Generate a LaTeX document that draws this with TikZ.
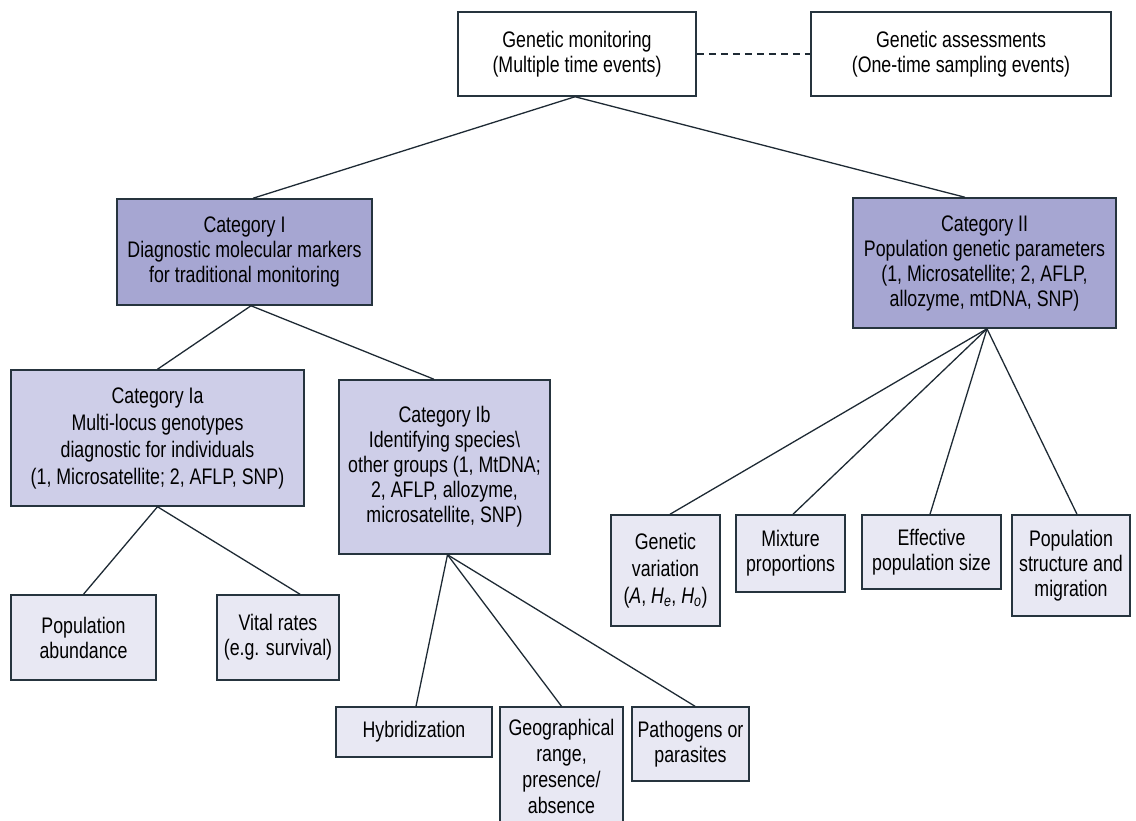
\documentclass[tikz,border=0pt]{standalone}
\usepackage{fontspec}
\setmainfont{Liberation Sans}[FakeStretch=0.79]
\definecolor{bordc}{RGB}{38,52,62}
\definecolor{linec}{RGB}{30,42,52}
\definecolor{catc}{RGB}{166,166,210}
\definecolor{subc}{RGB}{206,206,232}
\definecolor{leafc}{RGB}{232,232,243}
\newcommand{\fsz}{\fontsize{22.5}{25}\selectfont}
\newcommand{\fszw}{\fontsize{22.5}{27}\selectfont}
\newcommand{\fszg}{\fontsize{22.5}{26}\selectfont}
\tikzset{
  box/.style={draw=bordc, line width=1.5pt, align=center, inner sep=0pt, font=\fsz},
  topbox/.style={box, fill=white},
  catbox/.style={box, fill=catc},
  subbox/.style={box, fill=subc},
  leafbox/.style={box, fill=leafc},
  link/.style={draw=linec, line width=1.3pt},
  sz/.style 2 args={minimum width=#1pt, minimum height=#2pt}
}
\begin{document}
\begin{tikzpicture}[x=1pt,y=-1pt]
\useasboundingbox (0,0) rectangle (1136,820);
\clip (0,0) rectangle (1136,820);
% top
\node[topbox, sz={238}{84}] (mon) at (577,54) {Genetic monitoring\\(Multiple time events)};
\node[topbox, sz={300}{84}] (ass) at (961,54) {Genetic assessments\\(One-time sampling events)};
% categories
\node[catbox, sz={255}{106}] (c1) at (244.5,252) {Category I\\Diagnostic molecular markers\\for traditional monitoring};
\node[catbox, sz={263}{130}] (c2) at (984.5,263) {Category II\\Population genetic parameters\\(1, Microsatellite; 2, AFLP,\\allozyme, mtDNA, SNP)};
% sub categories
\node[subbox, sz={293}{136}, font=\fszw] (ia) at (157.5,438) {Category Ia\\Multi-locus genotypes\\diagnostic for individuals\\(1, Microsatellite; 2, AFLP, SNP)};
\node[subbox, sz={211}{174}] (ib) at (444.5,467) {Category Ib\\Identifying species\textbackslash\\other groups (1, MtDNA;\\2, AFLP, allozyme,\\microsatellite, SNP)};
% leaves
\node[leafbox, sz={145}{85}] (pa) at (83.5,637.5) {Population\\abundance};
\node[leafbox, sz={122}{85}] (vr) at (278,637.5) {Vital rates\\(e.g. survival)};
\node[leafbox, sz={156}{50}] (hy) at (414,732) {Hybridization};
\node[leafbox, sz={123}{118}, font=\fszg] (geo) at (561.5,766) {Geographical\\range,\\presence/\\absence};
\node[leafbox, sz={117}{74}] (pp) at (690.5,744) {Pathogens or\\parasites};
\node[leafbox, sz={109}{111}, font=\fszw] (gv) at (665.5,570.5) {Genetic\\variation\\(\textit{A}, \textit{H}\textsubscript{\textit{e}}, \textit{H}\textsubscript{\textit{o}})};
\node[leafbox, sz={109}{77}] (mp) at (790.5,553.5) {Mixture\\proportions};
\node[leafbox, sz={139}{74}] (ep) at (931.5,552) {Effective\\population size};
\node[leafbox, sz={118}{101}] (ps) at (1071,565.5) {Population\\structure and\\migration};
% connectors
\draw[link, dash pattern=on 7pt off 5pt] (mon.east) -- (ass.west);
\draw[link] ([xshift=-2pt]mon.south) -- ([xshift=8.5pt]c1.north);
\draw[link] ([xshift=-2pt]mon.south) -- ([xshift=-19.5pt]c2.north);
\draw[link] ([xshift=6.5pt]c1.south) -- (ia.north);
\draw[link] ([xshift=6.5pt]c1.south) -- ([xshift=-10.5pt]ib.north);
\draw[link] (ia.south) -- (pa.north);
\draw[link] (ia.south) -- ([xshift=22pt]vr.north);
\draw[link] ([xshift=3pt]ib.south) -- ([xshift=2pt]hy.north);
\draw[link] ([xshift=3pt]ib.south) -- (geo.north);
\draw[link] ([xshift=3pt]ib.south) -- ([xshift=4.5pt]pp.north);
\draw[link] ([xshift=2.5pt]c2.south) -- ([xshift=4.5pt]gv.north);
\draw[link] ([xshift=2.5pt]c2.south) -- ([xshift=2.5pt]mp.north);
\draw[link] ([xshift=2.5pt]c2.south) -- ([xshift=-1.5pt]ep.north);
\draw[link] ([xshift=2.5pt]c2.south) -- ([xshift=6pt]ps.north);
\end{tikzpicture}
\end{document}
